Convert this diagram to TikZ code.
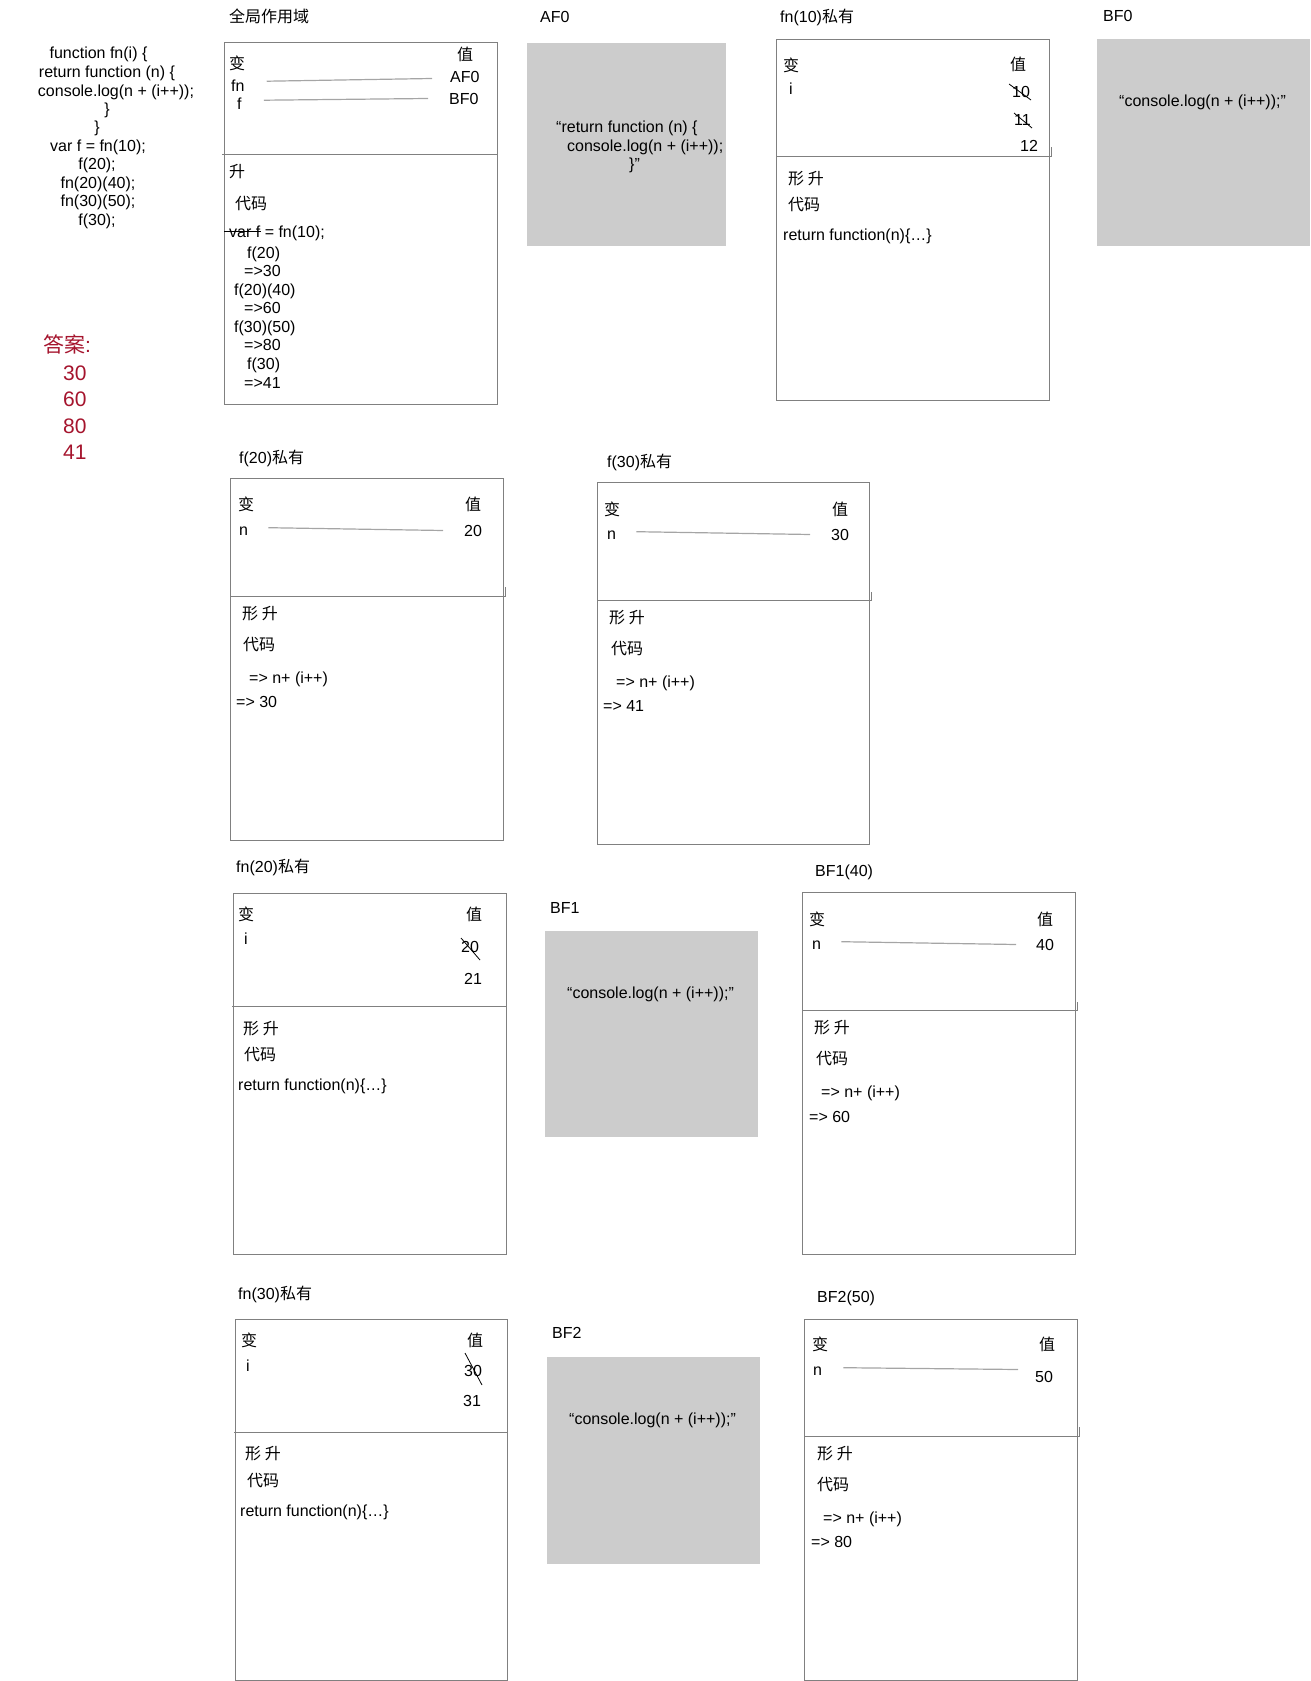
\documentclass[tikz,border=0pt]{standalone}
\usepackage{fontspec}
\setmainfont{Liberation Sans}
\newfontfamily\cjk{Noto Sans CJK SC}
\newcommand\bodyfs{\fontsize{16}{18}\selectfont}
\newcommand\ansfs{\fontsize{21}{24}\selectfont}
\definecolor{framegray}{RGB}{128,128,128}
\definecolor{memogray}{RGB}{204,204,204}
\definecolor{linkgray}{RGB}{165,165,165}
\definecolor{ansred}{RGB}{165,20,45}
\tikzset{
  txt/.style={anchor=base west, inner sep=0pt, font=\bodyfs},
  ctxt/.style={anchor=base, inner sep=0pt, font=\bodyfs},
  ans/.style={anchor=base west, inner sep=0pt, font=\ansfs, text=ansred},
  frame/.style={draw=framegray, line width=1pt},
  memo/.style={fill=memogray},
  link/.style={draw=linkgray, line width=1.2pt},
  strike/.style={draw=black, line width=0.8pt},
}
\begin{document}
\begin{tikzpicture}[x=1pt,y=-1pt]
\useasboundingbox (0,0) rectangle (1310,1681);

% ---------- left code ----------
\node[ctxt] (c1) at (98.5,58) {function fn(i) \{};
\node[ctxt] (c2) at (107,77) {return function (n) \{};
\node[ctxt] (c3) at (116,96) {console.log(n + (i++));};
\node[ctxt] (c4) at (107,114) {\}};
\node[ctxt] (c5) at (97,132) {\}};
\node[ctxt] (c6) at (98,151) {var f = fn(10);};
\node[ctxt] (c7) at (97,169) {f(20);};
\node[ctxt] (c8) at (98,188) {fn(20)(40);};
\node[ctxt] (c9) at (98,206) {fn(30)(50);};
\node[ctxt] (c10) at (97,225) {f(30);};

% ---------- answers ----------
\node[ans] (a0) at (43,352) {{\cjk 答案}:};
\node[ans] (a1) at (63,380.5) {30};
\node[ans] (a2) at (63,406.5) {60};
\node[ans] (a3) at (63,433.5) {80};
\node[ans] (a4) at (63,459.5) {41};

% ---------- titles ----------
\node[txt] (tg) at (229,22) {\cjk 全局作用域};
\node[txt] (taf0) at (540,23) {AF0};
\node[txt] (tfn10) at (780,23) {fn(10){\cjk 私有}};
\node[txt] (tbf0) at (1103,21) {BF0};
\node[txt] (tf20) at (239,463) {f(20){\cjk 私有}};
\node[txt] (tf30) at (607,467) {f(30){\cjk 私有}};
\node[txt] (tfn20) at (236,872) {fn(20){\cjk 私有}};
\node[txt] (tbf1) at (550,913) {BF1};
\node[txt] (tbf140) at (815,876) {BF1(40)};
\node[txt] (tfn30) at (238,1299) {fn(30){\cjk 私有}};
\node[txt] (tbf2) at (552,1338) {BF2};
\node[txt] (tbf250) at (817,1302) {BF2(50)};

% ---------- heap (gray) boxes ----------
\fill[memo] (527,43) rectangle (726,246);
\fill[memo] (1097,39) rectangle (1310,246);
\fill[memo] (545,931) rectangle (758,1137);
\fill[memo] (547,1357) rectangle (760,1564);
\node[txt] (af0a) at (556,132) {“return function (n) \{};
\node[txt] (af0b) at (567,151) {console.log(n + (i++));};
\node[txt] (af0c) at (629,169) {\}”};
\node[txt] (bf0t) at (1119,106) {“console.log(n + (i++));”};
\node[txt] (bf1t) at (567,998) {“console.log(n + (i++));”};
\node[txt] (bf2t) at (569,1424) {“console.log(n + (i++));”};

% ---------- scope frames ----------
% global
\draw[frame] (224,42) rectangle (497,404);
\draw[frame] (222,154) -- (497,154);
% fn(10)
\draw[frame] (776,39) rectangle (1049,400);
\draw[frame] (776,156) -- (1051,156) -- (1051,147);
% f(20)
\draw[frame] (230,478) rectangle (503,840);
\draw[frame] (230,596) -- (505,596) -- (505,587);
% f(30)
\draw[frame] (597,482) rectangle (869,844);
\draw[frame] (597,600) -- (871,600) -- (871,592);
% fn(20)
\draw[frame] (233,893) rectangle (506,1254);
\draw[frame] (232,1006) -- (506,1006);
% BF1(40)
\draw[frame] (802,892) rectangle (1075,1254);
\draw[frame] (802,1010) -- (1077,1010) -- (1077,1002);
% fn(30)
\draw[frame] (235,1319) rectangle (507,1680);
\draw[frame] (234,1432) -- (507,1432);
% BF2(50)
\draw[frame] (804,1319) rectangle (1077,1680);
\draw[frame] (804,1436) -- (1079,1436) -- (1079,1427);

% ---------- global scope contents ----------
\node[txt] (gv) at (229,69) {\cjk 变};
\node[txt] (gz) at (457,60) {\cjk 值};
\node[txt] (gfn) at (231,91) {fn};
\node[txt] (gf) at (237,109) {f};
\node[txt] (gaf) at (450,82) {AF0};
\node[txt] (gbf) at (449,104) {BF0};
\draw[link] ([xshift=22pt,yshift=4pt]gfn.east) -- ([xshift=-18pt,yshift=-2pt]gaf.west);
\draw[link] ([xshift=22pt,yshift=3pt]gf.east) -- ([xshift=-21pt,yshift=0pt]gbf.west);
\node[txt] (gs) at (229,177) {\cjk 升};
\node[txt] (gd) at (235,209) {\cjk 代码};
\node[txt] (g1) at (229,237) {var f = fn(10);};
\draw[strike] ([xshift=-5pt,yshift=6pt]g1.base west) -- ([xshift=32pt,yshift=6pt]g1.base west);
\node[txt] (g2) at (247,258) {f(20)};
\node[txt] (g3) at (244,276) {=>30};
\node[txt] (g4) at (234,295) {f(20)(40)};
\node[txt] (g5) at (244,313) {=>60};
\node[txt] (g6) at (234,332) {f(30)(50)};
\node[txt] (g7) at (244,350) {=>80};
\node[txt] (g8) at (247,369) {f(30)};
\node[txt] (g9) at (244,388) {=>41};

% ---------- fn(10) contents ----------
\node[txt] (av) at (783,71) {\cjk 变};
\node[txt] (ai) at (789,94) {i};
\node[txt] (az) at (1010,70) {\cjk 值};
\node[txt] (a10) at (1012,97) {10};
\draw[strike] ([xshift=-3pt,yshift=13pt]a10.base west) -- ([xshift=19pt,yshift=-3pt]a10.base west);
\node[txt] (a11) at (1014,125) {11};
\draw[strike] ([xshift=0pt,yshift=12pt]a11.base west) -- ([xshift=18pt,yshift=-3pt]a11.base west);
\node[txt] (a12) at (1020,151) {12};
\node[txt] (as) at (788,184) {\cjk 形 升};
\node[txt] (ad) at (788,210) {\cjk 代码};
\node[txt] (ar) at (783,240) {return function(n)\{…\}};

% ---------- f(20) contents ----------
\node[txt] (bv) at (238,510) {\cjk 变};
\node[txt] (bn) at (239,535) {n};
\node[txt] (bz) at (465,510) {\cjk 值};
\node[txt] (b20) at (464,536) {20};
\draw[link] ([xshift=20pt,yshift=3pt]bn.east) -- ([xshift=-21pt,yshift=0pt]b20.west);
\node[txt] (bs) at (242,619) {\cjk 形 升};
\node[txt] (bd) at (243,650) {\cjk 代码};
\node[txt] (b1) at (249,683) {=> n+ (i++)};
\node[txt] (b2) at (236,707) {=> 30};

% ---------- f(30) contents ----------
\node[txt] (cv) at (604,515) {\cjk 变};
\node[txt] (cn) at (607,539) {n};
\node[txt] (cz) at (832,515) {\cjk 值};
\node[txt] (c30) at (831,540) {30};
\draw[link] ([xshift=20pt,yshift=3pt]cn.east) -- ([xshift=-21pt,yshift=0pt]c30.west);
\node[txt] (cs) at (609,623) {\cjk 形 升};
\node[txt] (cd) at (611,654) {\cjk 代码};
\node[txt] (cc1) at (616,687) {=> n+ (i++)};
\node[txt] (cc2) at (603,711) {=> 41};

% ---------- fn(20) contents ----------
\node[txt] (dv) at (238,920) {\cjk 变};
\node[txt] (di) at (244,944) {i};
\node[txt] (dz) at (466,920) {\cjk 值};
\node[txt] (d20) at (461,952) {20};
\draw[strike] ([xshift=0pt,yshift=14pt]d20.base west) -- ([xshift=19pt,yshift=-8pt]d20.base west);
\node[txt] (d21) at (464,984) {21};
\node[txt] (ds) at (243,1034) {\cjk 形 升};
\node[txt] (dd) at (244,1060) {\cjk 代码};
\node[txt] (dr) at (238,1090) {return function(n)\{…\}};

% ---------- BF1(40) contents ----------
\node[txt] (ev) at (809,925) {\cjk 变};
\node[txt] (en) at (812,949) {n};
\node[txt] (ez) at (1037,925) {\cjk 值};
\node[txt] (e40) at (1036,950) {40};
\draw[link] ([xshift=20pt,yshift=3pt]en.east) -- ([xshift=-20pt,yshift=0pt]e40.west);
\node[txt] (es) at (814,1033) {\cjk 形 升};
\node[txt] (ed) at (816,1064) {\cjk 代码};
\node[txt] (e1) at (821,1097) {=> n+ (i++)};
\node[txt] (e2) at (809,1122) {=> 60};

% ---------- fn(30) contents ----------
\node[txt] (fv) at (241,1346) {\cjk 变};
\node[txt] (fi) at (246,1371) {i};
\node[txt] (fz) at (467,1346) {\cjk 值};
\node[txt] (f30) at (464,1376) {30};
\draw[strike] ([xshift=1pt,yshift=23pt]f30.base west) -- ([xshift=18pt,yshift=-9pt]f30.base west);
\node[txt] (f31) at (463,1406) {31};
\node[txt] (fs) at (245,1459) {\cjk 形 升};
\node[txt] (fd) at (247,1486) {\cjk 代码};
\node[txt] (fr) at (240,1516) {return function(n)\{…\}};

% ---------- BF2(50) contents ----------
\node[txt] (hv) at (812,1350) {\cjk 变};
\node[txt] (hn) at (813,1375) {n};
\node[txt] (hz) at (1039,1350) {\cjk 值};
\node[txt] (h50) at (1035,1382) {50};
\draw[link] ([xshift=21pt,yshift=3pt]hn.east) -- ([xshift=-17pt,yshift=7pt]h50.west);
\node[txt] (hs) at (817,1459) {\cjk 形 升};
\node[txt] (hd) at (817,1490) {\cjk 代码};
\node[txt] (h1) at (823,1523) {=> n+ (i++)};
\node[txt] (h2) at (811,1547) {=> 80};
\end{tikzpicture}
\end{document}
